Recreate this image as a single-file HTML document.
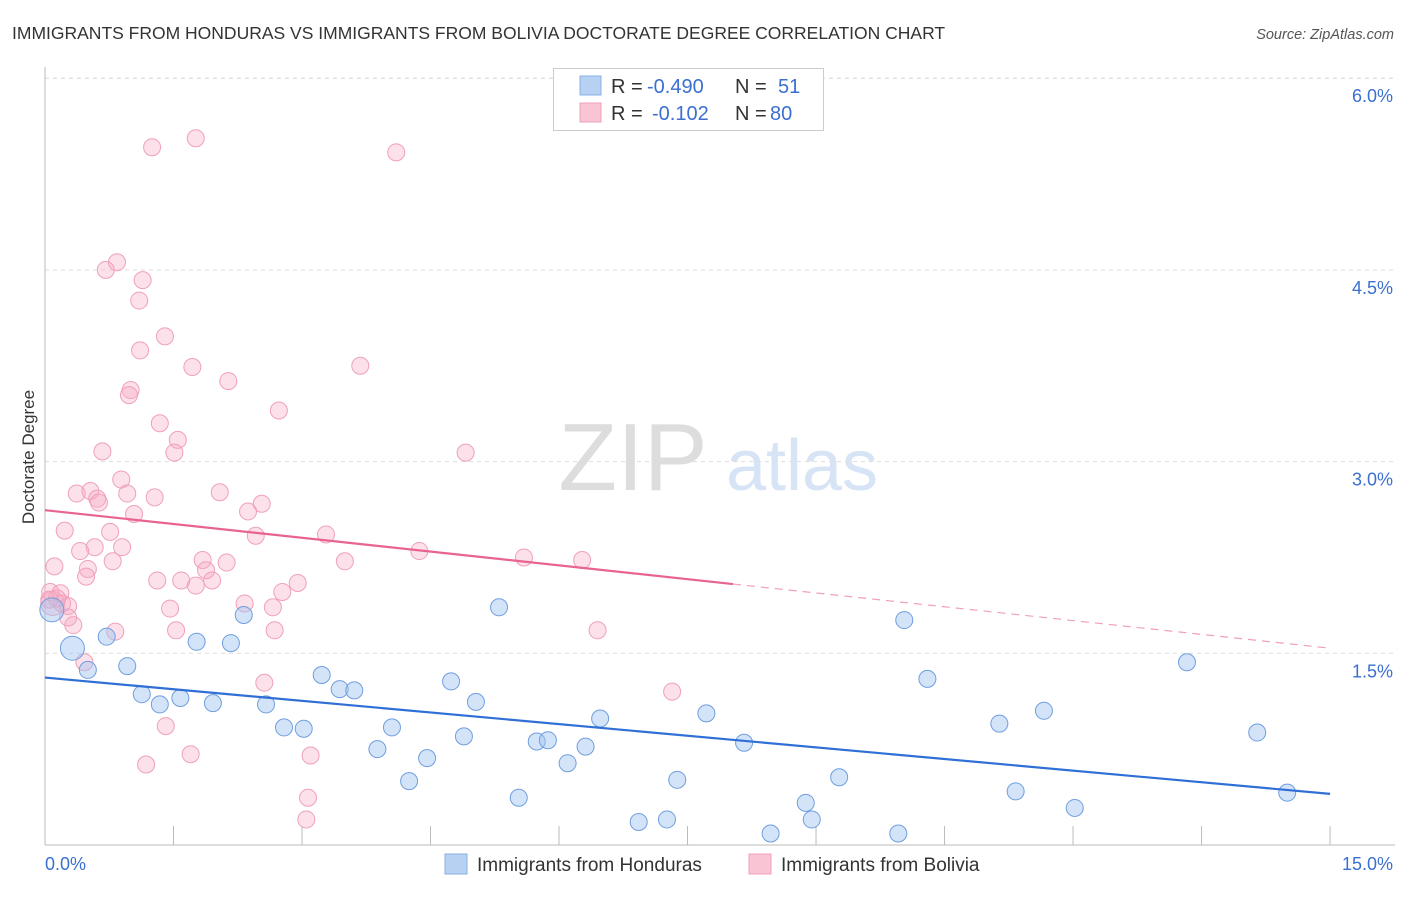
<!DOCTYPE html>
<html><head><meta charset="utf-8"><style>
body{margin:0;background:#fff;font-family:"Liberation Sans",sans-serif;}
svg text{font-family:"Liberation Sans",sans-serif;}
</style></head><body>
<svg id="c" width="1406" height="892" xmlns="http://www.w3.org/2000/svg">
<text x="12" y="39" font-size="17.5" fill="#333">IMMIGRANTS FROM HONDURAS VS IMMIGRANTS FROM BOLIVIA DOCTORATE DEGREE CORRELATION CHART</text>
<text x="1394" y="39" font-size="14.5" fill="#555" font-style="italic" text-anchor="end">Source: ZipAtlas.com</text>
<g>
<text x="633" y="490" font-size="96" fill="#ddd" font-family="Liberation Serif" text-anchor="middle">ZIP</text>
<text x="802" y="490" font-size="72" fill="#d6e4f5" text-anchor="middle">atlas</text>
</g>
<g id="grid"></g><g id="axes"></g><g id="pts"></g><g id="lines"></g>
<text transform="translate(34,457) rotate(-90)" font-size="17" fill="#333" text-anchor="middle">Doctorate Degree</text>
<g>
<rect x="553.5" y="68.5" width="270" height="62" fill="#fff" stroke="#ccc"/>
<g>
<rect x="580" y="76" width="21" height="19" fill="#b7d1f3" stroke="#8ab0e6"/>
<text x="611" y="93" font-size="20" fill="#333">R = </text><text x="647" y="93" font-size="20" fill="#3b6fd0">-0.490</text>
<text x="735" y="93" font-size="20" fill="#333">N = </text><text x="778" y="93" font-size="20" fill="#3b6fd0">51</text></g>
<g>
<rect x="580" y="103" width="21" height="19" fill="#f9c4d4" stroke="#f0a0b8"/>
<text x="611" y="120" font-size="20" fill="#333">R = </text><text x="652" y="120" font-size="20" fill="#3b6fd0">-0.102</text>
<text x="735" y="120" font-size="20" fill="#333">N = </text><text x="770" y="120" font-size="20" fill="#3b6fd0">80</text></g>
</g>
<g>
<rect x="445" y="854" width="22" height="20" fill="#b7d1f3" stroke="#8ab0e6"/>
<text x="477" y="871" font-size="19" fill="#333">Immigrants from Honduras</text>
<rect x="749" y="854" width="22" height="20" fill="#f9c4d4" stroke="#f0a0b8"/>
<text x="781" y="871" font-size="19" fill="#333">Immigrants from Bolivia</text>
</g>
</svg>
<script>
const yTicks=[1.5,3.0,4.5,6.0];
const yTickLabels=["1.5%","3.0%","4.5%","6.0%"];
const xEndLabels=["0.0%","15.0%"];
const hondurasX=[0.08,0.32,0.50,0.72,0.96,1.13,1.34,1.58,1.77,1.96,2.17,2.32,2.58,2.79,3.02,3.23,3.44,3.61,3.88,4.05,4.25,4.46,4.74,4.89,5.03,5.30,5.53,5.74,5.87,6.10,6.31,6.48,6.93,7.26,7.38,7.72,8.16,8.47,8.88,8.95,9.27,9.96,10.03,10.30,11.14,11.33,11.66,12.02,13.33,14.15,14.50];
const hondurasY=[1.84,1.54,1.37,1.63,1.40,1.18,1.10,1.15,1.59,1.11,1.58,1.80,1.10,0.92,0.91,1.33,1.22,1.21,0.75,0.92,0.50,0.68,1.28,0.85,1.12,1.86,0.37,0.81,0.82,0.64,0.77,0.99,0.18,0.20,0.51,1.03,0.80,0.09,0.33,0.20,0.53,0.09,1.76,1.30,0.95,0.42,1.05,0.29,1.43,0.88,0.41];
const boliviaX=[0.09,1.25,1.76,4.10,0.84,0.71,1.14,1.10,1.40,1.11,1.72,2.14,3.68,1.00,0.98,2.73,1.34,1.55,1.51,0.67,4.91,0.89,0.37,0.53,0.61,0.63,0.96,1.28,2.04,2.53,2.37,1.04,0.23,0.76,3.28,2.46,0.58,0.90,0.41,4.37,1.84,3.50,5.59,6.27,0.50,0.79,2.12,0.11,1.88,1.59,1.31,2.95,1.95,1.76,0.48,2.77,0.06,0.18,2.33,2.66,1.46,0.20,0.27,0.05,0.14,0.33,0.82,1.53,2.68,6.45,0.46,2.56,7.32,1.41,1.70,3.10,1.18,3.07,3.05,0.27];
const boliviaY=[1.89,5.46,5.53,5.42,4.56,4.50,4.42,4.26,3.98,3.87,3.74,3.63,3.75,3.56,3.52,3.40,3.30,3.17,3.07,3.08,3.07,2.86,2.75,2.77,2.71,2.68,2.75,2.72,2.76,2.67,2.61,2.59,2.46,2.45,2.43,2.42,2.33,2.33,2.30,2.30,2.23,2.22,2.25,2.23,2.16,2.22,2.21,2.18,2.15,2.07,2.07,2.05,2.07,2.03,2.10,1.98,1.98,1.97,1.89,1.86,1.85,1.89,1.87,1.92,1.93,1.72,1.67,1.68,1.68,1.68,1.43,1.27,1.20,0.93,0.71,0.70,0.63,0.37,0.20,1.78];
const hondurasSize=[12,12];
const boliviaSize=[12];
const hondurasTrend=[1.31,0.40];
const boliviaTrend=[2.62,1.54];
const boliviaSolidEnd=8.03;
const X=v=>45+v*85.67, Y=v=>845-v*127.8;
const NS="http://www.w3.org/2000/svg";
function mk(tag,attrs,parent){const e=document.createElementNS(NS,tag);for(const k in attrs)e.setAttribute(k,attrs[k]);document.getElementById(parent).appendChild(e);return e;}
yTicks.forEach((t,i)=>{
 const l=mk('line',{x1:45,x2:1395,y1:Y(t),y2:Y(t),stroke:'#ddd','stroke-dasharray':'4,4'},'grid');
 
 
 const tx=mk('text',{x:1393,y:Y(t)+24,'font-size':18,fill:'#3b6fd0','text-anchor':'end'},'axes');
 tx.textContent=yTickLabels[i];
 
 
});
const tg=mk('line',{x1:45,x2:1395,y1:Y(6.0)-0,y2:Y(6.0),stroke:'#ddd','stroke-dasharray':'4,4'},'grid');


const ya=mk('line',{x1:45,x2:45,y1:67,y2:845,stroke:'#bbb'},'axes');


const xa=mk('line',{x1:45,x2:1395,y1:845,y2:845,stroke:'#bbb'},'axes');


for(let i=0;i<=10;i++){
 const tk=mk('line',{x1:X(i*1.5),x2:X(i*1.5),y1:826,y2:845,stroke:'#bbb'},'axes');
 
 
}
const xl0=mk('text',{x:45,y:870,'font-size':18,fill:'#3b6fd0'},'axes');
xl0.textContent=xEndLabels[0];


const xl1=mk('text',{x:1393,y:870,'font-size':18,fill:'#3b6fd0','text-anchor':'end'},'axes');
xl1.textContent=xEndLabels[1];


boliviaX.forEach((x,i)=>{
 const c=mk('circle',{cx:X(x),cy:Y(boliviaY[i]),r:boliviaSize[i]||8.5,fill:'rgba(247,170,195,0.35)',stroke:'#f0a0ba','stroke-width':1},'pts');
 
 
});
hondurasX.forEach((x,i)=>{
 const c=mk('circle',{cx:X(x),cy:Y(hondurasY[i]),r:hondurasSize[i]||8.5,fill:'rgba(160,195,240,0.45)',stroke:'#6f9ee0','stroke-width':1},'pts');
 
 
});
const hl=mk('line',{x1:X(0),y1:Y(hondurasTrend[0]),x2:X(15),y2:Y(hondurasTrend[1]),stroke:'#2f6fd6','stroke-width':2.2},'lines');


const bm=boliviaTrend[0]+(boliviaTrend[1]-boliviaTrend[0])*boliviaSolidEnd/15;
const bl=mk('line',{x1:X(0),y1:Y(boliviaTrend[0]),x2:X(boliviaSolidEnd),y2:Y(bm),stroke:'#e8648e','stroke-width':2.2},'lines');


const bd=mk('line',{x1:X(boliviaSolidEnd),y1:Y(bm),x2:X(15),y2:Y(boliviaTrend[1]),stroke:'#f0a0ba','stroke-width':1.2,'stroke-dasharray':'8,6'},'lines');


</script>
</body></html>
